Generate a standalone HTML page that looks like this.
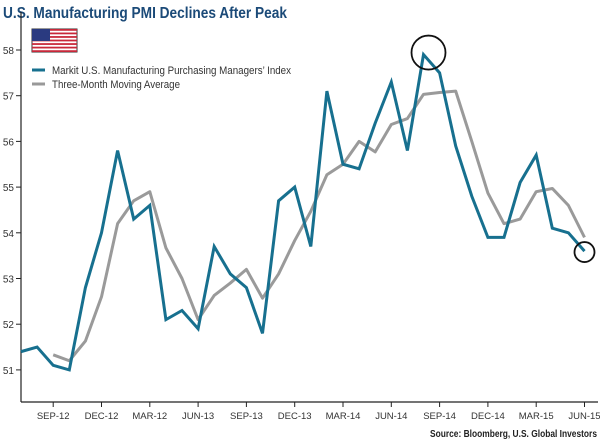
<!DOCTYPE html>
<html><head><meta charset="utf-8"><style>
body{margin:0;background:#fff;width:600px;height:440px;overflow:hidden;font-family:"Liberation Sans",sans-serif}
</style></head><body>
<svg id="chart" width="600" height="440" xmlns="http://www.w3.org/2000/svg">
<text x="3" y="18" font-size="16" font-weight="bold" fill="#1b4a78" textLength="284" lengthAdjust="spacingAndGlyphs" font-family="Liberation Sans, sans-serif">U.S. Manufacturing PMI Declines After Peak</text>
<g>
<rect x="32" y="29" width="45" height="23" fill="#fff" stroke="#333" stroke-width="1"/>
<g id="stripes"></g>
<rect x="32" y="29" width="18" height="12" fill="#2a3a80"/>
</g>
<g font-size="11" fill="#333">
<line x1="32" y1="70" x2="45" y2="70" stroke="#17708f" stroke-width="3"/>
<text x="52" y="74" fill="#333" textLength="239" lengthAdjust="spacingAndGlyphs">Markit U.S. Manufacturing Purchasing Managers’ Index</text>
<line x1="32" y1="84" x2="45" y2="84" stroke="#999" stroke-width="3"/>
<text x="52" y="88" fill="#333" textLength="128" lengthAdjust="spacingAndGlyphs">Three-Month Moving Average</text>
</g>
<g id="axes"></g>
<g id="series"></g>
<text x="597" y="437" text-anchor="end" font-size="10" font-weight="bold" fill="#222" textLength="167" lengthAdjust="spacingAndGlyphs">Source: Bloomberg, U.S. Global Investors</text>
</svg>
<script>
const months = ["Jul-12","Aug-12","Sep-12","Oct-12","Nov-12","Dec-12","Jan-13","Feb-13","Mar-13","Apr-13","May-13","Jun-13","Jul-13","Aug-13","Sep-13","Oct-13","Nov-13","Dec-13","Jan-14","Feb-14","Mar-14","Apr-14","May-14","Jun-14","Jul-14","Aug-14","Sep-14","Oct-14","Nov-14","Dec-14","Jan-15","Feb-15","Mar-15","Apr-15","May-15","Jun-15"];
const pmi = [51.4,51.5,51.1,51.0,52.8,54.0,55.8,54.3,54.6,52.1,52.3,51.9,53.7,53.1,52.8,51.8,54.7,55.0,53.7,57.1,55.5,55.4,56.4,57.3,55.8,57.9,57.5,55.9,54.8,53.9,53.9,55.1,55.7,54.1,54.0,53.6];
const movingAvg = [null,null,51.33,51.2,51.63,52.6,54.2,54.7,54.9,53.67,53.0,52.1,52.63,52.9,53.2,52.57,53.1,53.83,54.47,55.27,55.5,56.0,55.77,56.37,56.5,57.03,57.07,57.1,56.0,54.87,54.2,54.3,54.9,54.97,54.6,53.9];
const yTicks = [51,52,53,54,55,56,57,58];
const xTickLabels = ["SEP-12","DEC-12","MAR-12","JUN-13","SEP-13","DEC-13","MAR-14","JUN-14","SEP-14","DEC-14","MAR-15","JUN-15"];
const xTickIdx = [2,5,8,11,14,17,20,23,26,29,32,35];
const peakIdx = 25, endIdx = 35;

const NS="http://www.w3.org/2000/svg";
const x0=21, step=16.1, axisY=402;
const xs=i=>x0+i*step;
const ys=v=>50+(58-v)*45.7;
function mk(tag,attrs,parent){const e=document.createElementNS(NS,tag);for(const k in attrs)e.setAttribute(k,attrs[k]);parent.appendChild(e);return e;}
const stripes=document.getElementById('stripes');
for(let i=0;i<7;i++){const r=mk('rect',{x:32,y:29+i*23/6.5,width:45,height:23/13,fill:'#c8283a'},stripes);

}
const ax=document.getElementById('axes');
const yl=mk('line',{x1:x0,y1:12,x2:x0,y2:axisY,stroke:'#222','stroke-width':1.2},ax);


const xl=mk('line',{x1:x0,y1:axisY,x2:598,y2:axisY,stroke:'#222','stroke-width':1.2},ax);


yTicks.forEach(v=>{mk('line',{x1:x0-5,y1:ys(v),x2:x0,y2:ys(v),stroke:'#222'},ax);
const t=mk('text',{x:x0-7,y:ys(v)+4,'text-anchor':'end','font-size':10,fill:'#333'},ax);t.textContent=v;

});
xTickIdx.forEach((idx,k)=>{const x=xs(idx);mk('line',{x1:x,y1:axisY,x2:x,y2:axisY+5,stroke:'#222'},ax);
const t=mk('text',{x:x,y:axisY+17,'text-anchor':'middle','font-size':9.5,fill:'#333'},ax);t.textContent=xTickLabels[k];

});
const s=document.getElementById('series');
const maPts=movingAvg.map((v,i)=>v==null?null:xs(i)+','+ys(v)).filter(Boolean).join(' ');
const ma=mk('polyline',{points:maPts,fill:'none',stroke:'#9a9a9a','stroke-width':3,'stroke-linejoin':'round'},s);


const pl=mk('polyline',{points:pmi.map((v,i)=>xs(i)+','+ys(v)).join(' '),fill:'none',stroke:'#17708f','stroke-width':3,'stroke-linejoin':'miter'},s);


const c1=mk('circle',{cx:xs(peakIdx)+5,cy:ys(pmi[peakIdx])-2,r:17,fill:'none',stroke:'#111','stroke-width':1.8},s);


const c2=mk('circle',{cx:xs(endIdx),cy:ys(pmi[endIdx])+1,r:10,fill:'none',stroke:'#111','stroke-width':1.8},s);


</script>
</body></html>
